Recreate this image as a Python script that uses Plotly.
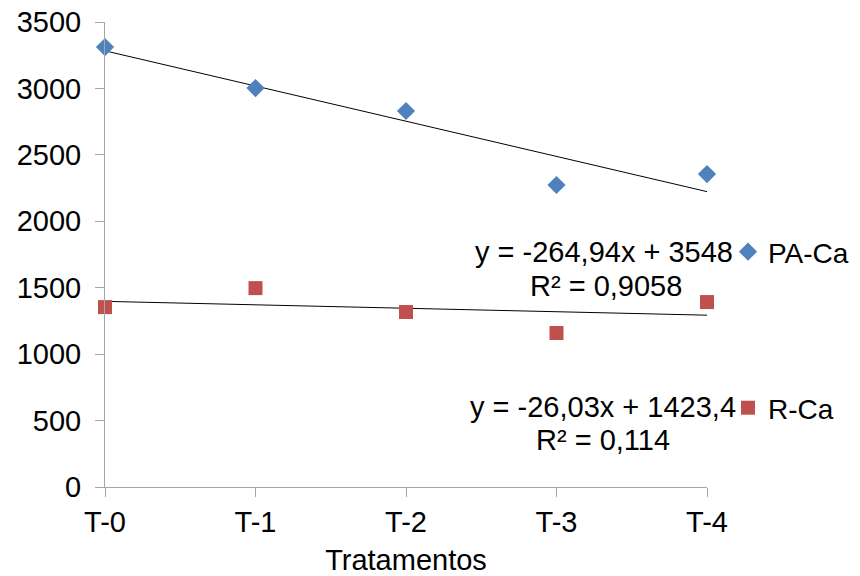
import plotly.graph_objects as go

categories = ["T-0", "T-1", "T-2", "T-3", "T-4"]
pa_ca = [3311, 3003, 2830, 2273, 2355]
r_ca = [1354, 1497, 1317, 1159, 1392]
pa_fit = (-264.94, 3548.0)
r_fit = (-26.03, 1423.4)
pa_eq = ["y = -264,94x + 3548", "R² = 0,9058"]
r_eq = ["y = -26,03x + 1423,4", "R² = 0,114"]
y_ticks = [0, 500, 1000, 1500, 2000, 2500, 3000, 3500]

BLUE = "#4F81BD"
RED = "#C0504D"
FONT = "Liberation Sans"
FS = 29

# page body has an 8px margin; figure is sized to fill the rest of the window
W, H, OFF = 852, 568, 8

xs = list(range(len(categories)))
pa_trend = [pa_fit[0] * (i + 1) + pa_fit[1] for i in xs]
r_trend = [r_fit[0] * (i + 1) + r_fit[1] for i in xs]

fig = go.Figure()
fig.add_trace(go.Scatter(x=xs, y=pa_trend, mode="lines", line=dict(color="#000000", width=1),
                         showlegend=False, hoverinfo="skip", cliponaxis=False))
fig.add_trace(go.Scatter(x=xs, y=r_trend, mode="lines", line=dict(color="#000000", width=1),
                         showlegend=False, hoverinfo="skip", cliponaxis=False))
fig.add_trace(go.Scatter(x=xs, y=pa_ca, mode="markers", name="PA-Ca",
                         marker=dict(symbol="diamond", size=14, color=BLUE),
                         cliponaxis=False, legend="legend"))
fig.add_trace(go.Scatter(x=xs, y=r_ca, mode="markers", name="R-Ca",
                         marker=dict(symbol="square", size=14, color=RED),
                         cliponaxis=False, legend="legend2"))

leg_common = dict(font=dict(family=FONT, size=28, color="#000"), bgcolor="rgba(0,0,0,0)",
                  xref="container", yref="container", xanchor="left", yanchor="middle",
                  itemwidth=30, tracegroupgap=0)

def cx(px):
    return (px - OFF) / W

def cy(py):
    return 1 - (py - OFF) / H

fig.update_layout(
    width=W, height=H,
    margin=dict(l=105 - OFF, r=153, t=22 - OFF, b=89, autoexpand=False),
    paper_bgcolor="white", plot_bgcolor="white",
    font=dict(family=FONT, size=FS, color="#000"),
    legend=dict(x=cx(728), y=cy(252), **leg_common),
    legend2=dict(x=cx(728), y=cy(408), **leg_common),
    xaxis=dict(range=[0, 4], tickmode="array", tickvals=xs, ticktext=categories, automargin=False,
               showgrid=False, zeroline=False, showline=True, linecolor="#A6A6A6", linewidth=1,
               ticks="outside", ticklen=9, tickcolor="#A6A6A6", ticklabeloverflow="allow",
               tickfont=dict(family=FONT, size=FS, color="#000"),
               title=dict(text="Tratamentos", font=dict(family=FONT, size=FS, color="#000"), standoff=13)),
    yaxis=dict(range=[0, 3500], tickmode="array", tickvals=y_ticks, automargin=False,
               showgrid=False, zeroline=False, showline=True, linecolor="#A6A6A6", linewidth=1,
               ticks="outside", ticklen=9, tickcolor="#A6A6A6", ticklabelstandoff=8,
               ticklabeloverflow="allow",
               tickfont=dict(family=FONT, size=FS, color="#000")),
)

ann_font = dict(family=FONT, size=FS, color="#000")
fig.add_annotation(text=pa_eq[0], xref="paper", yref="paper", x=(735 - 105) / 602, y=(487 - 252) / 465,
                   xanchor="right", yanchor="middle", showarrow=False, font=ann_font)
fig.add_annotation(text=pa_eq[1], xref="paper", yref="paper", x=(606 - 105) / 602, y=(487 - 286) / 465,
                   xanchor="center", yanchor="middle", showarrow=False, font=ann_font)
fig.add_annotation(text=r_eq[0], xref="paper", yref="paper", x=(738 - 105) / 602, y=(487 - 407) / 465,
                   xanchor="right", yanchor="middle", showarrow=False, font=ann_font)
fig.add_annotation(text=r_eq[1], xref="paper", yref="paper", x=(603 - 105) / 602, y=(487 - 440) / 465,
                   xanchor="center", yanchor="middle", showarrow=False, font=ann_font)

fig.write_html("out.html")
